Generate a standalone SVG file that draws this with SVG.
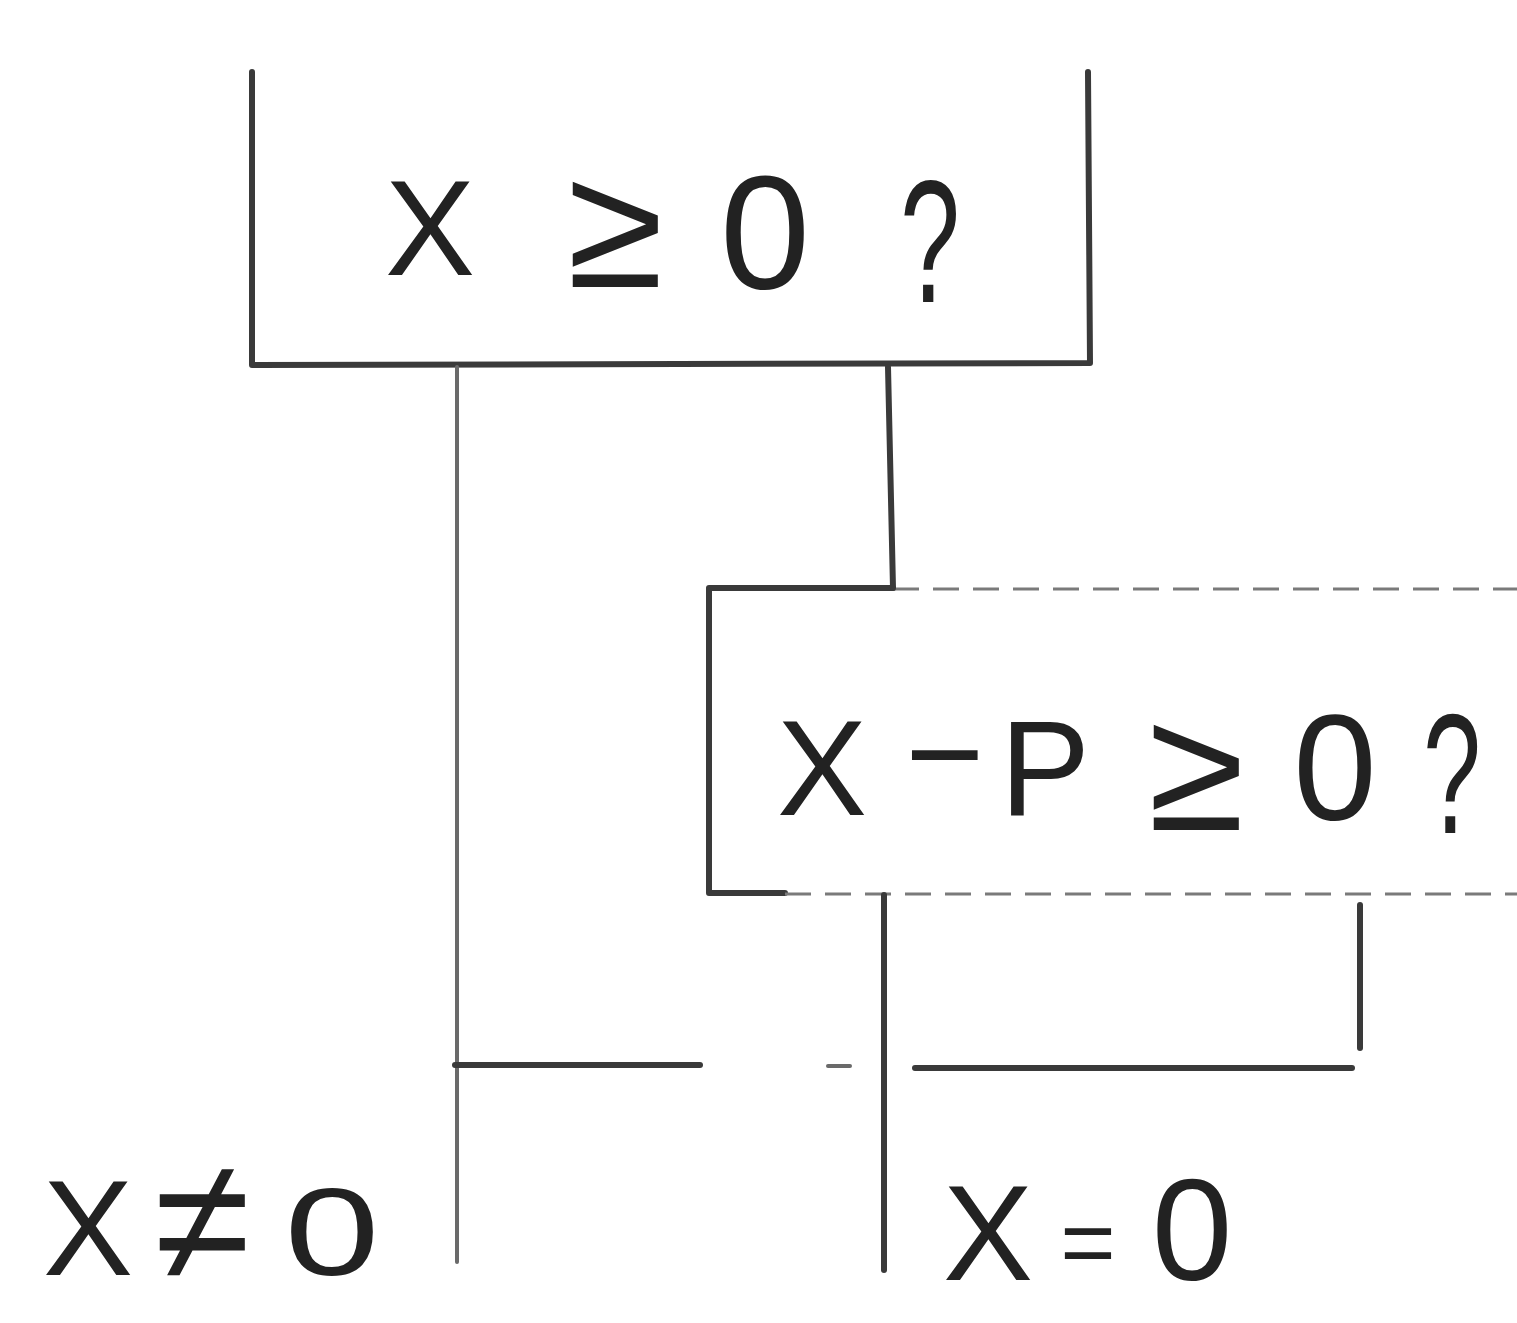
<svg xmlns="http://www.w3.org/2000/svg" width="1517" height="1323" viewBox="0 0 1517 1323">
<style>
.ln{fill:none;stroke:#3a3a3a;stroke-width:6;stroke-linecap:round;stroke-linejoin:round}
.thin{fill:none;stroke:#6a6a6a;stroke-width:4;stroke-linecap:round}
.faint{fill:none;stroke:#7a7a7a;stroke-width:3;stroke-dasharray:26 14}
.t{font-family:"Liberation Sans",Arial,sans-serif;fill:#222;text-anchor:middle;font-size:135px}
.op{font-size:175px}
.zero{font-size:162px}
</style>
<rect width="1517" height="1323" fill="#fff"/>
<g id="node1">
<path class="ln" d="M252,72 L252,365 L1090,363 L1088,72"/>
<text class="t" y="275"><tspan x="430">X</tspan><tspan class="op" x="615" dy="12">≥</tspan><tspan class="zero" x="765" dy="1">0</tspan><tspan x="930" dy="14" style="font-size:175px" textLength="60" lengthAdjust="spacingAndGlyphs">?</tspan></text>
</g>
<g id="node2">
<path class="ln" d="M893,588 L709,588 L709,893 L785,893"/>
<path class="faint" d="M893,589 L1517,589"/>
<path class="faint" d="M785,894 L1517,894"/>
<text class="t" y="815"><tspan x="822">X</tspan><tspan x="945" dy="-15">−</tspan><tspan x="1045" dy="15">P</tspan><tspan class="op" x="1196" dy="15">≥</tspan><tspan x="1335" dy="-10" style="font-size:150px">0</tspan><tspan x="1452" dy="13" style="font-size:170px" textLength="58" lengthAdjust="spacingAndGlyphs">?</tspan></text>
</g>
<g id="connectors">
<path class="thin" d="M457,367 L457,1262"/>
<path class="ln" d="M888,367 L893,588"/>
<path class="ln" d="M884,895 L884,1270"/>
<path class="ln" d="M1360,905 L1360,1048"/>
<path class="ln" d="M915,1068 L1352,1068"/>
<path class="ln" d="M455,1065 L700,1065"/>
<path class="thin" d="M828,1066 L850,1066"/>
</g>
<g id="label_ne">
<text class="t" y="1275"><tspan x="88">X</tspan><tspan class="op" x="202" dy="5">≠</tspan><tspan x="332" dy="-5" style="font-size:125px" textLength="95" lengthAdjust="spacingAndGlyphs">0</tspan></text>
</g>
<g id="label_eq">
<text class="t" y="1280"><tspan x="988">X</tspan><tspan x="1088" dy="-5" style="font-size:95px">=</tspan><tspan x="1192" dy="5" style="font-size:145px">0</tspan></text>
</g>
</svg>
